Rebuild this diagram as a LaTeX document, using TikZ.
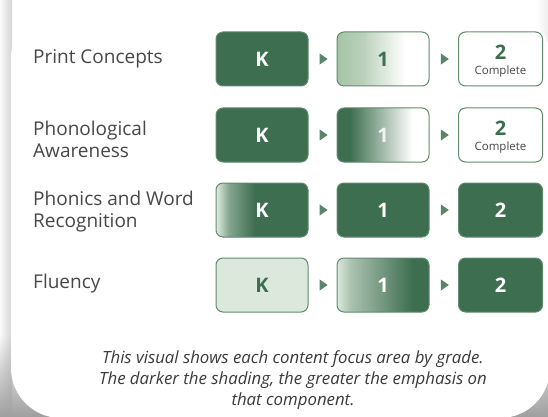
\documentclass[tikz,border=0pt]{standalone}
\usepackage{fontspec}
\setmainfont{Open Sans}
\usetikzlibrary{shapes.geometric,calc,fadings}

\definecolor{dkgreen}{HTML}{3E6E50}
\definecolor{edgegreen}{HTML}{5E8C6C}
\definecolor{palegreen}{HTML}{DCE8DC}
\definecolor{softgreen}{HTML}{A6C3A7}
\definecolor{labelgray}{HTML}{474747}
\definecolor{capgray}{HTML}{3A3A3A}

% horizontal fills; the box spans 25bp..75bp of each shading
\pgfdeclarehorizontalshading{lightfade}{100bp}{color(0bp)=(softgreen); color(25bp)=(softgreen); color(38bp)=(softgreen!80!white); color(62bp)=(white); color(100bp)=(white)}
\pgfdeclarehorizontalshading{darkfade}{100bp}{color(0bp)=(dkgreen); color(25bp)=(dkgreen); color(32bp)=(dkgreen); color(66bp)=(white); color(100bp)=(white)}
\pgfdeclarehorizontalshading{riseearly}{100bp}{color(0bp)=(palegreen); color(25bp)=(palegreen!85!white); color(32bp)=(palegreen!45!dkgreen); color(46bp)=(dkgreen); color(100bp)=(dkgreen)}
\pgfdeclarehorizontalshading{riselate}{100bp}{color(0bp)=(palegreen); color(25bp)=(palegreen); color(32bp)=(palegreen!70!dkgreen); color(66bp)=(dkgreen); color(100bp)=(dkgreen)}

\tikzset{
  gradebox/.style={rounded corners=7pt, draw=edgegreen, line width=1pt,
    minimum height=54pt, inner sep=0pt,
    font=\fontsize{20}{20}\selectfont\bfseries},
  widebox/.style={gradebox, minimum width=92pt},
  lastbox/.style={gradebox, minimum width=84pt},
  solid dark/.style={fill=dkgreen, text=white},
  stepmark/.style={isosceles triangle, isosceles triangle apex angle=70,
    fill=dkgreen!85!white, draw=none, minimum height=8pt, minimum width=9pt,
    inner sep=0pt},
  rowlabel/.style={anchor=west, align=left, text=labelgray, inner sep=2pt,
    font=\fontsize{19}{22}\selectfont},
  donebox/.style={lastbox, fill=white},
  donegrade/.style={inner sep=0pt, text=dkgreen,
    font=\fontsize{20}{20}\selectfont\bfseries},
  donenote/.style={inner sep=0pt, text=labelgray,
    font=\fontsize{11.5}{12}\selectfont},
}

\begin{document}
\begin{tikzpicture}[x=1pt,y=-1pt]
  \useasboundingbox (0,0) rectangle (548,417);
  \fill[white] (0,0) rectangle (548,417);
  \begin{scope}
    \clip (0,0) rectangle (548,417);
    % shadow along the left edge, deepening towards the bottom corners
    \shade[left color=gray!4, right color=gray!34] (0,0) rectangle (12,417);
    \shade[left color=white, right color=gray!14] (536,0) rectangle (548,417);
    \fill[gray!75, path fading=north] (0,335) rectangle (548,417);
    % card
    \fill[white, rounded corners=50pt] (11,8) rectangle (550,418);
  \end{scope}

  % row labels
  \node[rowlabel] (lab1) at (31,59) {Print Concepts};
  \node[rowlabel] (lab2) at (31,139) {Phonological\\Awareness};
  \node[rowlabel] (lab3) at (31,212) {Phonics and Word\\Recognition};
  \node[rowlabel] (lab4) at (31,284) {Fluency};

  % row 1: Print Concepts
  \node[widebox, solid dark] (k1) at (262,59) {K};
  \node[widebox, shading=lightfade, text=dkgreen] (g1a) at (383,59) {1};
  \node[donebox] (g2a) at (500.5,59) {};
  \node[donegrade] (g2a-grade) at (500.5,52) {2};
  \node[donenote] (g2a-note) at (500.5,72) {Complete};
  % row 2: Phonological Awareness
  \node[widebox, solid dark] (k2) at (262,135) {K};
  \node[widebox, shading=darkfade, text=white!92!dkgreen] (g1b) at (383,135) {1};
  \node[donebox] (g2b) at (500.5,135) {};
  \node[donegrade] (g2b-grade) at (500.5,128) {2};
  \node[donenote] (g2b-note) at (500.5,148) {Complete};
  % row 3: Phonics and Word Recognition
  \node[widebox, shading=riseearly, text=white] (k3) at (262,210) {K};
  \node[widebox, solid dark] (g1c) at (383,210) {1};
  \node[lastbox, solid dark] (g2c) at (500.5,210) {2};
  % row 4: Fluency
  \node[widebox, fill=palegreen, text=dkgreen] (k4) at (262,285) {K};
  \node[widebox, shading=riselate, text=white] (g1d) at (383,285) {1};
  \node[lastbox, solid dark] (g2d) at (500.5,285) {2};

  % step markers between grades
  \foreach \r/\a/\b/\c in {1/k1/g1a/g2a, 2/k2/g1b/g2b, 3/k3/g1c/g2c, 4/k4/g1d/g2d}{
    \node[stepmark] (m\r a) at ($(\a.east)!0.5!(\b.west)$) {};
    \node[stepmark] (m\r b) at ($(\b.east)!0.5!(\c.west)$) {};
  }

  % caption
  \node[text=capgray, align=center, font=\fontsize{16.8}{21}\selectfont\itshape]
    (cap) at (293,380)
    {This visual shows each content focus area by grade.\\
     The darker the shading, the greater the emphasis on\\
     that component.};
\end{tikzpicture}
\end{document}
